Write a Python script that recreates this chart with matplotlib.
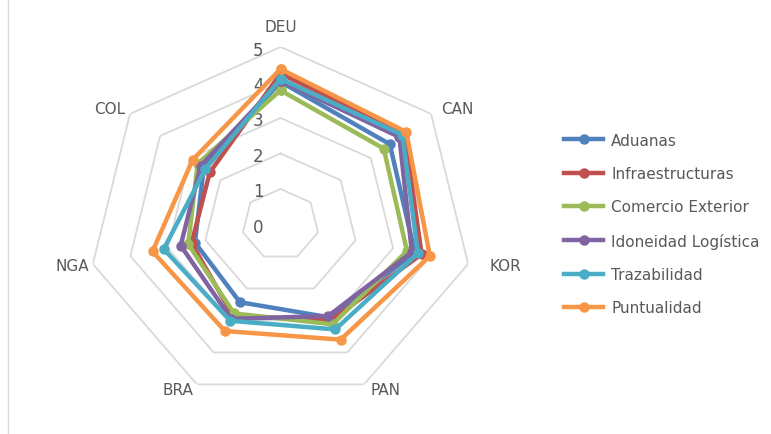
import numpy as np
import matplotlib
matplotlib.use("Agg")
import matplotlib.pyplot as plt
from matplotlib.lines import Line2D

categories = ["DEU", "CAN", "KOR", "PAN", "BRA", "NGA", "COL"]
series_names = ["Aduanas", "Infraestructuras", "Comercio Exterior",
                "Idoneidad Logística", "Trazabilidad", "Puntualidad"]
aduanas = [4.02, 3.63, 3.58, 2.90, 2.43, 2.28, 2.55]
infraestructuras = [4.25, 4.12, 3.76, 3.00, 2.85, 2.37, 2.35]
comercio_exterior = [3.78, 3.43, 3.37, 3.12, 2.78, 2.46, 2.75]
idoneidad_logistica = [4.05, 3.95, 3.50, 2.86, 2.95, 2.66, 2.65]
trazabilidad = [4.10, 4.05, 3.66, 3.28, 3.01, 3.11, 2.50]
puntualidad = [4.38, 4.18, 3.98, 3.60, 3.33, 3.41, 2.92]
radial_ticks = [0, 1, 2, 3, 4, 5]

series = [aduanas, infraestructuras, comercio_exterior,
          idoneidad_logistica, trazabilidad, puntualidad]
colors = ["#4F81BD", "#C0504D", "#9BBB59", "#8064A2", "#4BACC6", "#F79646"]
text_color = "#595959"
grid_color = "#D9D9D9"

W, H = 771, 435
fig = plt.figure(figsize=(W / 100, H / 100), dpi=100)
fig.patch.set_facecolor("white")

cx, cy = 280.5, 225.5
rx, ry = 192.5, 177.5
ax = fig.add_axes([(cx - rx) / W, (H - cy - ry) / H, 2 * rx / W, 2 * ry / H],
                  projection="polar")
ax.set_aspect("auto")
ax.set_theta_zero_location("N")
ax.set_theta_direction(-1)
ax.set_ylim(0, 5)
ax.grid(False)
ax.spines["polar"].set_visible(False)
ax.set_xticks([])
ax.set_yticks([])
ax.patch.set_alpha(0)

n = len(categories)
theta = np.arange(n) * 2 * np.pi / n
theta_c = np.append(theta, theta[0])

# polygon grid
for r in radial_ticks[1:]:
    ax.plot(theta_c, [r] * (n + 1), color=grid_color, lw=1.3, zorder=1)

# radial labels (drawn beneath the series lines)
for r in radial_ticks:
    ax.annotate(str(r), xy=(0, r), xytext=(-22, -2.5), textcoords="offset pixels",
                ha="center", va="center", fontsize=12, color=text_color, zorder=2)

# category labels (pixel offsets from the outer ring vertex)
label_offsets = [(0, 21), (26, 5), (37, -2), (21, -5), (-19, -5), (-21, -2), (-20, 5)]
for t, lab, (dx, dy) in zip(theta, categories, label_offsets):
    ax.annotate(lab, xy=(t, 5), xytext=(dx, dy),
                textcoords="offset pixels", ha="center", va="center",
                fontsize=11, color=text_color)

handles = []
for vals, name, c in zip(series, series_names, colors):
    v = np.append(vals, vals[0])
    ln, = ax.plot(theta_c, v, color=c, lw=3.2, marker="o", markersize=6.5,
                  solid_joinstyle="round", zorder=3, label=name)
    handles.append(ln)

leg = fig.legend(handles=handles, loc="upper left",
                 bbox_to_anchor=(550 / W, 1 - 120 / H), frameon=False,
                 fontsize=11, labelspacing=1.2, handlelength=2.6,
                 handletextpad=0.5, labelcolor=text_color)

fig.add_artist(Line2D([8 / W, 8 / W], [0, 1], transform=fig.transFigure,
                      color=grid_color, lw=1))

fig.savefig("out.png", dpi=100)
